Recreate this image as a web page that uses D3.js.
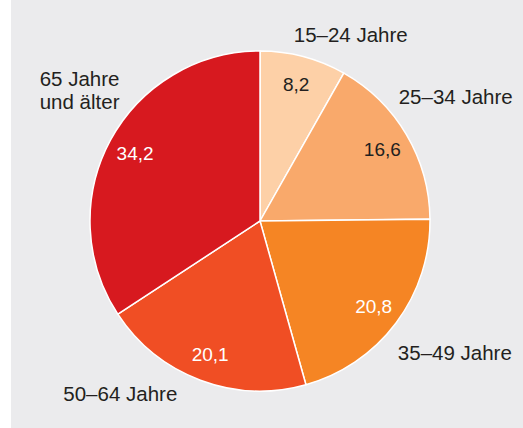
<!DOCTYPE html>
<html>
<head>
<meta charset="utf-8">
<script src="https://cdn.jsdelivr.net/npm/d3@7"></script>
<style>
  html, body { margin: 0; padding: 0; background: #ffffff; }
  svg { display: block; }
</style>
</head>
<body>
<div id="chart"></div>
<script>
// age groups and shares (percent)
const categories = ['15–24 Jahre', '25–34 Jahre', '35–49 Jahre', '50–64 Jahre', '65 Jahre\nund älter'];
const values = [8.2, 16.6, 20.8, 20.1, 34.2];
const valueLabels = ['8,2', '16,6', '20,8', '20,1', '34,2'];
const colors = ['#fdd0a7', '#f9a96b', '#f58524', '#f04e24', '#d7191f'];
const valueTextColors = ['#231f20', '#231f20', '#ffffff', '#ffffff', '#ffffff'];

const width = 523, height = 428;
const cx = 260, cy = 221, radius = 170;

// placement of the outside category labels (degrees clockwise from top, distance)
const labelLayout = [[26, 207], [57.5, 232], [124, 235], [219, 222], [306, 223]];

const svg = d3.select('#chart').append('svg')
  .attr('width', width)
  .attr('height', height)
  .style('font-family', '"Liberation Sans", Arial, Helvetica, sans-serif');

// grey panel
svg.append('rect')
  .attr('x', 11).attr('y', 0)
  .attr('width', width - 11).attr('height', height)
  .attr('fill', '#ebebed');

const g = svg.append('g').attr('transform', `translate(${cx},${cy})`);

const pie = d3.pie().sort(null).value(d => d)(values);
const arc = d3.arc().innerRadius(0).outerRadius(radius);
const labelArc = d3.arc().innerRadius(142).outerRadius(142);

g.selectAll('path.slice')
  .data(pie)
  .enter()
  .append('path')
  .attr('class', 'slice')
  .attr('d', arc)
  .attr('fill', (d, i) => colors[i])
  .attr('stroke', '#ffffff')
  .attr('stroke-width', 1.5);

// value labels inside the slices
g.selectAll('text.value')
  .data(pie)
  .enter()
  .append('text')
  .attr('class', 'value')
  .attr('transform', d => `translate(${labelArc.centroid(d)})`)
  .attr('text-anchor', 'middle')
  .attr('dy', '0.36em')
  .attr('font-size', '19px')
  .attr('fill', (d, i) => valueTextColors[i])
  .text((d, i) => valueLabels[i]);

// category labels outside
const catText = g.selectAll('text.cat')
  .data(categories)
  .enter()
  .append('text')
  .attr('class', 'cat')
  .attr('transform', (d, i) => {
    const a = labelLayout[i][0] * Math.PI / 180, r = labelLayout[i][1];
    return `translate(${r * Math.sin(a)},${-r * Math.cos(a)})`;
  })
  .attr('text-anchor', 'middle')
  .attr('font-size', '20.5px')
  .attr('fill', '#231f20');

catText.each(function (d) {
  const lines = d.split('\n');
  const el = d3.select(this);
  lines.forEach((line, j) => {
    el.append('tspan')
      .attr('x', 0)
      .attr('dy', j === 0 ? (0.36 - (lines.length - 1) * 0.55) + 'em' : '1.12em')
      .text(line);
  });
});
</script>
</body>
</html>
